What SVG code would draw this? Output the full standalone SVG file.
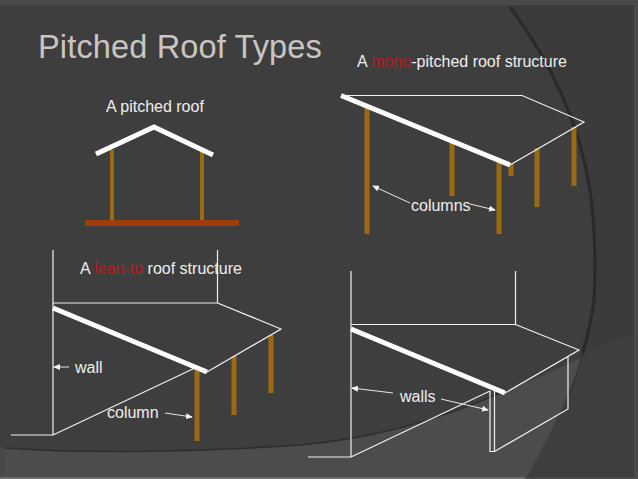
<svg xmlns="http://www.w3.org/2000/svg" width="638" height="479" viewBox="0 0 638 479">
<style>
text{font-family:"Liberation Sans",Arial,sans-serif;font-size:16px;fill:#eee}
.red{fill:#b81c1c}
.thin{fill:none;stroke:#f0f0f0;stroke-width:1.200}
.roof{fill:none;stroke:#fff;stroke-width:5}
.col{fill:none;stroke:#9a6a12;stroke-width:5}
.arr{fill:none;stroke:#e8e8e8;stroke-width:1;marker-end:url(#a)}
</style>
<defs><marker id="a" markerWidth="7" markerHeight="6" refX="6" refY="3" orient="auto" markerUnits="userSpaceOnUse"><path d="M0 0L7 3L0 6Z" fill="#f4f4f4"/></marker></defs>
<g id="background">
<rect width="638" height="479" fill="#4a4a4a"/>
<rect y="477" width="525" height="2" fill="#6e6e6e"/>
<rect x="0" y="5" width="634" height="472" fill="#3e3e3e"/>
<path d="M510 5C545 55 590 140 595 250C597 320 575 385 527 477H634V5Z" fill="#3b3b3b"/>
<path d="M5 448C90 454 200 452 300 445C400 436 510 395 634 332V477H5Z" fill="#4c4c4c"/>
<path d="M583 353C570 395 550 435 527 477H634V332Z" fill="#3e3e3e"/>
<rect x="0" y="448" width="5" height="29" fill="#484848"/>
<path d="M510 7C536 42 577 105 590 190C595 225 596 270 594 300C591 325 586 342 583 353" fill="none" stroke="#2a2a2a" stroke-width="3"/>
<path d="M5 448C90 454 200 452 300 445C370 439 440 420 507 390" fill="none" stroke="#2e2e2e" stroke-width="1.500"/>
<path d="M583 353C577 375 572 388 568 397" fill="none" stroke="#2e2e2e" stroke-width="1"/>
</g>
<text id="title" x="38" y="58" style="font-size:32.500px;fill:#c9c5c2;letter-spacing:.15px">Pitched Roof Types</text>
<g id="pitched-roof">
<text x="106" y="112">A pitched roof</text>
<path class="col" d="M112 150V221M202 152V221" style="stroke-width:4"/>
<path d="M85 223H239" fill="none" stroke="#a03c0a" stroke-width="6"/>
<path class="roof" d="M96 154L154 127L213 155"/>
</g>
<g id="mono-pitched-roof">
<text x="357" y="67">A <tspan class="red">mono</tspan>-pitched roof structure</text>
<path class="col" d="M367 108V234M452 143V196M499 162V234M511 164V176M537 148V207M574 127V186"/>
<path class="thin" d="M341 95.500H522L584 122L510 165"/>
<path class="roof" d="M341 95.500L510 165"/>
<text x="411" y="211">columns</text>
<path class="arr" d="M410 203L373 186"/>
<path class="arr" d="M470 204L495 210"/>
</g>
<g id="lean-to-roof">
<text x="80" y="274">A <tspan class="red">lean-to</tspan> roof structure</text>
<path class="col" d="M197 367V441M234 356V415M271 335V393"/>
<path class="thin" d="M53 250V435H11M53 303H217.500V250M217.500 303L281 329L207 372M53 435L197 367"/>
<path class="roof" d="M53 308L207 372"/>
<text x="75" y="373">wall</text>
<text x="107" y="418">column</text>
<path class="arr" d="M69 367H54"/>
<path class="arr" d="M165 413L192 417"/>
</g>
<g id="walled-roof">
<path class="thin" d="M351 271V457H308M351 324.500H515.500V271M515.500 324.500L579 350L505 393M351 457L490 391M490 391V451.500H494.500V391M494.500 451.500L568 409V357"/>
<path class="roof" d="M351 329L505 393"/>
<text x="400" y="402">walls</text>
<path class="arr" d="M393 393L352 388"/>
<path class="arr" d="M441 399L488 410"/>
</g>
</svg>
